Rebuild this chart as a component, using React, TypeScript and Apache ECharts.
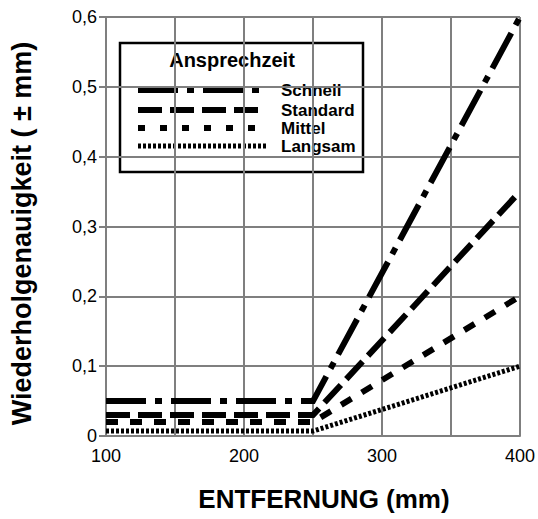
import React, { useEffect, useRef } from "react";
import * as echarts from "echarts";

const distances = [100, 250, 400];
const seriesNames = ["Schnell", "Standard", "Mittel", "Langsam"];
const schnell = [0.05, 0.05, 0.6];
const standard = [0.03, 0.03, 0.35];
const mittel = [0.02, 0.02, 0.2];
const langsam = [0.007, 0.007, 0.1];
const legendTitle = "Ansprechzeit";
const xTitle = "ENTFERNUNG (mm)";
const yTitle = "Wiederholgenauigkeit ( ± mm)";

const FONT = "'Liberation Sans', Arial, sans-serif";
const dashes: number[][] = [
  [40, 9, 7, 9],
  [24, 8],
  [12, 12],
  [3, 2],
];
const widths = [6, 6, 6, 5];

export default function App() {
  const ref = useRef<HTMLDivElement>(null);
  useEffect(() => {
    if (!ref.current) return;
    const chart = echarts.init(ref.current, undefined, { renderer: "svg" });
    const allData = [schnell, standard, mittel, langsam];
    const series = seriesNames.map((name, i) => ({
      name,
      type: "line",
      data: distances.map((d, k) => [d, allData[i][k]]),
      symbol: "none",
      lineStyle: { color: "#000", width: widths[i], type: dashes[i], cap: "butt", join: "miter" },
      z: 5 - i,
    }));

    const lx = 120, ly = 43, lw = 243, lh = 129;
    const rowY = [90, 110, 128, 146];
    const legendChildren: any[] = [
      { type: "rect", shape: { x: lx, y: ly, width: lw, height: lh }, style: { fill: "#fff", stroke: "#000", lineWidth: 2.5 } },
      { type: "text", x: 232, y: 60, style: { text: legendTitle, font: `bold 20px ${FONT}`, fill: "#000", align: "center", verticalAlign: "middle" } },
    ];
    seriesNames.forEach((n, i) => {
      legendChildren.push({
        type: "line",
        shape: { x1: 138, y1: rowY[i], x2: 266, y2: rowY[i] },
        style: { stroke: "#000", lineWidth: widths[i], lineDash: i === 2 ? [7, 15] : dashes[i], lineCap: "butt" },
      });
      legendChildren.push({
        type: "text",
        x: 281,
        y: rowY[i],
        style: { text: n, font: `bold 17px ${FONT}`, fill: "#000", align: "left", verticalAlign: "middle" },
      });
    });

    chart.setOption({
      animation: false,
      backgroundColor: "#fff",
      grid: { left: 104, right: 18, top: 17, bottom: 83, containLabel: false },
      xAxis: {
        type: "value",
        min: 100,
        max: 400,
        interval: 50,
        name: xTitle,
        nameLocation: "middle",
        nameGap: 50,
        nameTextStyle: { fontFamily: FONT, fontWeight: "bold", fontSize: 26, color: "#000", padding: [0, 0, 0, 22] },
        axisLine: { lineStyle: { color: "#7f7f7f", width: 2 } },
        axisTick: { show: false },
        axisLabel: {
          fontFamily: FONT,
          fontSize: 18,
          color: "#000",
          margin: 11,
          formatter: (v: number) => (v % 100 === 0 ? String(v) : ""),
        },
        splitLine: { show: true, lineStyle: { color: "#7f7f7f", width: 2 } },
      },
      yAxis: {
        type: "value",
        min: 0,
        max: 0.6,
        interval: 0.1,
        name: yTitle,
        nameLocation: "middle",
        nameGap: 71,
        nameTextStyle: { fontFamily: FONT, fontWeight: "bold", fontSize: 27, color: "#000", padding: [0, 14, 0, 0] },
        axisLine: { show: true, lineStyle: { color: "#7f7f7f", width: 2 } },
        axisTick: { show: true, length: 7, lineStyle: { color: "#7f7f7f", width: 2 } },
        axisLabel: {
          fontFamily: FONT,
          fontSize: 18,
          color: "#000",
          margin: 9,
          formatter: (v: number) => (v === 0 ? "0" : v.toFixed(1).replace(".", ",")),
        },
        splitLine: { show: true, lineStyle: { color: "#7f7f7f", width: 2 } },
      },
      graphic: [{ type: "group", z: 100, children: legendChildren }],
      series,
    });
    return () => chart.dispose();
  }, []);
  return <div ref={ref} style={{ position: "fixed", left: 0, top: 0, width: 538, height: 519 }} />;
}
